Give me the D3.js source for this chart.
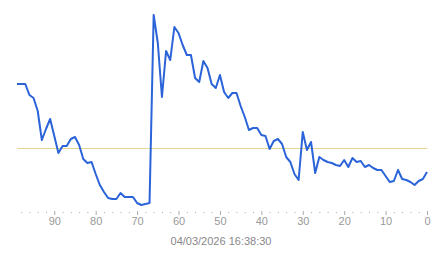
<!DOCTYPE html>
<html>
<head>
<meta charset="utf-8">
<style>
  body { margin: 0; background: #fff; font-family: "Liberation Sans", Arial, sans-serif; }
  .tick text { fill: #999; font-size: 11px; }
  .tick line { stroke: #aaa; }
</style>
<script src="https://cdn.jsdelivr.net/npm/d3@7"></script>
</head>
<body>
<svg id="chart"></svg>
<script>
// seconds ago, from 99 down to 0
let ages = d3.range(99, -1, -1)
let values = [
  65, 65, 65, 59.5, 58, 51.5, 37, 42.5, 47.5, 39,
  30.5, 34, 34, 37.5, 38.5, 34.5, 27.5, 25.5, 26, 20,
  14.5, 11, 8, 7.5, 7.5, 10.5, 8.5, 8.5, 8.5, 5.5,
  4.5, 5, 5.5, 99.5, 85.5, 58.5, 81.5, 77, 93.5, 90.5,
  84.5, 79.5, 79.5, 68, 66, 76.5, 73, 65, 63, 69.5,
  61, 58, 60.5, 60.5, 54, 48.5, 42, 43, 43, 39.5,
  39, 32.5, 36.5, 37.5, 35, 28.5, 26, 20, 17, 41,
  32, 36, 20.5, 28.5, 27, 26, 25.5, 24.5, 24, 27,
  23.5, 28, 26, 26.5, 23.5, 24.5, 23, 22, 22, 19,
  16, 16.5, 22, 17.5, 17, 16, 14.5, 16.5, 17.5, 21
]
let refValue = 33
let majorTicks = [90, 80, 70, 60, 50, 40, 30, 20, 10, 0]
let timeLabel = "04/03/2026 16:38:30"

let width = 443, height = 258
let svg = d3.select("#chart").attr("width", width).attr("height", height)

let x = d3.scaleLinear().domain([99, 0]).range([17, 427])
let y = d3.scaleLinear().domain([0, 100]).range([214, 14])

let data = ages.map((a, i) => ({age: a, value: values[i]}))

// reference line
svg.append("line")
  .attr("x1", x(99)).attr("x2", x(0))
  .attr("y1", y(refValue) + 0.5).attr("y2", y(refValue) + 0.5)
  .attr("stroke", "#e8d48a")
  .attr("stroke-width", 1)

// main series
let line = d3.line().x(d => x(d.age)).y(d => y(d.value))
svg.append("path")
  .datum(data)
  .attr("d", line)
  .attr("fill", "none")
  .attr("stroke", "#2b63d9")
  .attr("stroke-width", 2)
  .attr("stroke-linejoin", "round")

// minor dots every 2
let minor = d3.range(98, 0, -2).filter(v => v % 10 != 0)
svg.append("g")
  .attr("transform", "translate(0,212)")
  .call(d3.axisBottom(x).tickValues(minor).tickSize(1).tickFormat(""))
  .call(g => g.select(".domain").remove())
  .selectAll(".tick line").attr("stroke", "#999")

// major ticks
svg.append("g")
  .attr("transform", "translate(0,211)")
  .call(d3.axisBottom(x).tickValues(majorTicks).tickSize(4).tickPadding(2))
  .call(g => g.select(".domain").remove())
  .selectAll(".tick text").attr("font-family", "Liberation Sans, Arial, sans-serif")

svg.append("text")
  .attr("x", 221).attr("y", 245)
  .attr("text-anchor", "middle")
  .attr("fill", "#888")
  .attr("font-size", 11)
  .text(timeLabel)
</script>
</body>
</html>
